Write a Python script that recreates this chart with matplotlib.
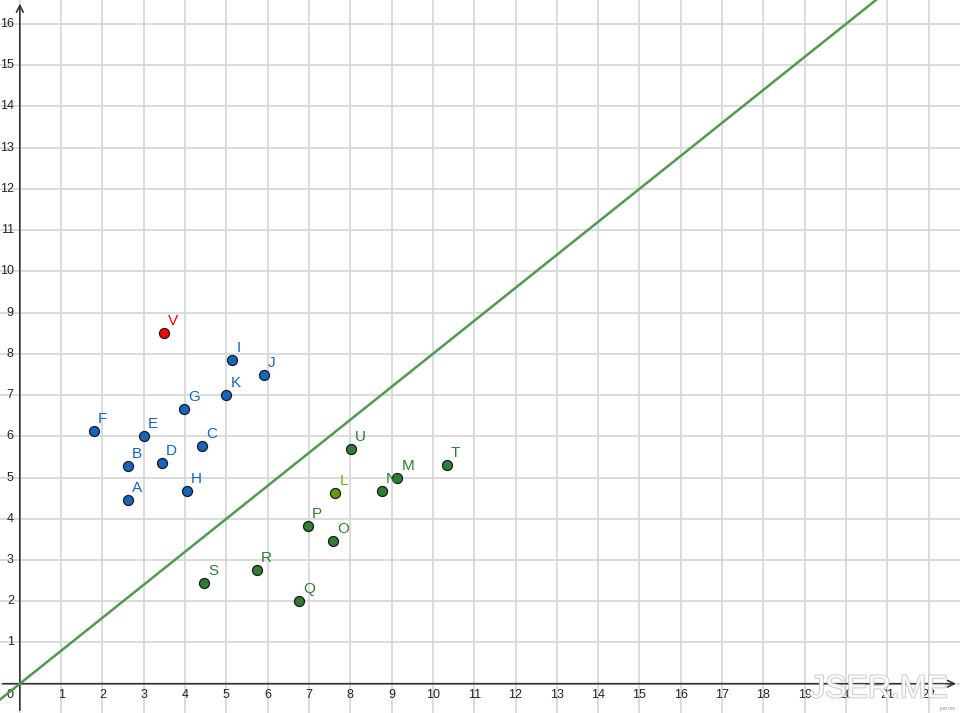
import matplotlib
matplotlib.use("Agg")
import matplotlib.pyplot as plt
import matplotlib.patheffects as pe

# ---- data ----
blue_names = ["A", "B", "C", "D", "E", "F", "G", "H", "I", "J", "K"]
blue_x = [2.61, 2.61, 4.41, 3.43, 3.00, 1.80, 3.97, 4.04, 5.14, 5.91, 5.00]
blue_y = [4.45, 5.28, 5.76, 5.35, 6.00, 6.13, 6.67, 4.67, 7.86, 7.49, 6.99]

green_names = ["M", "N", "O", "P", "Q", "R", "S", "T", "U"]
green_x = [9.14, 8.77, 7.59, 6.97, 6.76, 5.73, 4.46, 10.34, 8.02]
green_y = [4.99, 4.67, 3.45, 3.83, 2.01, 2.75, 2.45, 5.31, 5.68]

olive_names = ["L"]
olive_x = [7.64]
olive_y = [4.63]

red_names = ["V"]
red_x = [3.49]
red_y = [8.51]

line_slope = 0.8
x_ticks = list(range(1, 23))
y_ticks = list(range(1, 17))

XMIN, XMAX = -0.48, 22.76
YMIN, YMAX = -0.71, 16.58

plt.rcParams['font.family'] = ['Liberation Sans', 'DejaVu Sans']

fig = plt.figure(figsize=(9.6, 7.13), dpi=100)
ax = fig.add_axes([0, 0, 1, 1])
ax.set_xlim(XMIN, XMAX)
ax.set_ylim(YMIN, YMAX)
ax.set_axis_off()

grid_c = '#d6d6d6'
for xv in range(0, 23):
    ax.axvline(xv, color=grid_c, lw=1.2, zorder=0)
for yv in range(0, 17):
    ax.axhline(yv, color=grid_c, lw=1.2, zorder=0)

# axes with arrows
axis_c = '#333333'
ax.annotate('', xy=(XMAX - 0.03, 0), xytext=(XMIN, 0),
            arrowprops=dict(arrowstyle='->', color=axis_c, lw=1.2,
                            mutation_scale=12), zorder=2)
ax.annotate('', xy=(0, YMAX - 0.02), xytext=(0, YMIN),
            arrowprops=dict(arrowstyle='->', color=axis_c, lw=1.2,
                            mutation_scale=12), zorder=2)

# tick labels
for xv in x_ticks:
    ax.annotate(str(xv), xy=(xv, 0), xytext=(0, -5), textcoords='offset pixels',
                ha='center', va='top', fontsize=9, color='#222222', zorder=3)
for yv in y_ticks:
    ax.annotate(str(yv), xy=(0, yv), xytext=(-6, 0), textcoords='offset pixels',
                ha='right', va='center', fontsize=9, color='#222222', zorder=3)
ax.annotate('0', xy=(0, 0), xytext=(-6, -5), textcoords='offset pixels',
            ha='right', va='top', fontsize=9, color='#222222', zorder=3)

# line y = 0.8 x
xs = [XMIN, XMAX]
ax.plot(xs, [line_slope * v for v in xs], color='#4f9a4f', lw=1.8, zorder=3)

def draw_points(xs_, ys_, names, fill, label_c):
    ax.scatter(xs_, ys_, s=52, c=fill, edgecolors='#1a1a1a', linewidths=0.9, zorder=4)
    for x, y, n in zip(xs_, ys_, names):
        ax.annotate(n, xy=(x, y), xytext=(4, 8), textcoords='offset pixels',
                    ha='left', va='baseline', fontsize=11, color=label_c, zorder=5)

draw_points(blue_x, blue_y, blue_names, '#1565c0', '#1565c0')
draw_points(green_x, green_y, green_names, '#2e7d32', '#2e7d32')
draw_points(olive_x, olive_y, olive_names, '#669900', '#7aad00')
draw_points(red_x, red_y, red_names, '#ff0000', '#ff0000')

# watermark
fig.text(0.843, 0.012, 'JSER.ME', fontsize=23, color='white', ha='left', va='bottom',
         alpha=0.85, zorder=10,
         path_effects=[pe.withStroke(linewidth=1.5, foreground='#c8c8c8')])
fig.text(0.995, 0.003, 'jser.me', fontsize=3.5, color='#999999', ha='right', va='bottom')

fig.savefig('out.png', dpi=100)
